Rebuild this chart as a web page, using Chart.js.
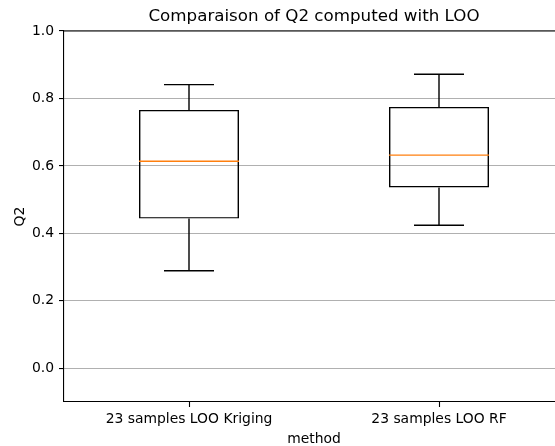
<!DOCTYPE html>
<html>
<head>
<meta charset="utf-8">
<script src="https://cdn.jsdelivr.net/npm/chart.js@4/dist/chart.umd.min.js"></script>
<style>
  html, body { margin: 0; padding: 0; overflow: hidden; background: #fff; }
  canvas { display: block; }
</style>
</head>
<body>
<canvas id="myChart" width="628" height="446"></canvas>
<script>
// box plot values
const categories = ['23 samples LOO Kriging', '23 samples LOO RF'];
const whiskerLow = [0.289, 0.424];
const q1 = [0.444, 0.536];
const median = [0.614, 0.632];
const q3 = [0.766, 0.775];
const whiskerHigh = [0.841, 0.872];
const yTicks = [0.0, 0.2, 0.4, 0.6, 0.8, 1.0];

const FONT = 'DejaVu Sans';

// whiskers, caps, medians, x tick marks and the top frame line, drawn through the chart scales
const boxExtras = {
  id: 'boxExtras',
  afterLayout(chart) {
    // center the title over the whole figure, like matplotlib does over the axes
    chart.titleBlock.left = 0;
    chart.titleBlock.right = chart.width;
  },
  afterDatasetsDraw(chart) {
    const ctx = chart.ctx;
    const x = chart.scales.x;
    const y = chart.scales.y;
    const meta = chart.getDatasetMeta(0);
    ctx.save();
    ctx.lineWidth = 1.4;
    meta.data.forEach(function(bar, i) {
      const cx = bar.x;
      const half = bar.width / 2;
      const capHalf = half / 2;
      ctx.strokeStyle = '#000';
      ctx.beginPath();
      ctx.moveTo(cx, y.getPixelForValue(q3[i]));
      ctx.lineTo(cx, y.getPixelForValue(whiskerHigh[i]));
      ctx.moveTo(cx, y.getPixelForValue(q1[i]));
      ctx.lineTo(cx, y.getPixelForValue(whiskerLow[i]));
      ctx.moveTo(cx - capHalf, y.getPixelForValue(whiskerHigh[i]));
      ctx.lineTo(cx + capHalf, y.getPixelForValue(whiskerHigh[i]));
      ctx.moveTo(cx - capHalf, y.getPixelForValue(whiskerLow[i]));
      ctx.lineTo(cx + capHalf, y.getPixelForValue(whiskerLow[i]));
      ctx.stroke();
      ctx.strokeStyle = '#ff7f0e';
      ctx.beginPath();
      ctx.moveTo(cx - half, y.getPixelForValue(median[i]));
      ctx.lineTo(cx + half, y.getPixelForValue(median[i]));
      ctx.stroke();
    });
    const a = chart.chartArea;
    ctx.strokeStyle = '#000';
    ctx.lineWidth = 1.1;
    ctx.beginPath();
    // top spine
    ctx.moveTo(a.left, a.top);
    ctx.lineTo(a.right, a.top);
    // x tick marks under each category
    categories.forEach(function(c, i) {
      const px = Math.round(x.getPixelForValue(i)) + 0.5;
      ctx.moveTo(px, a.bottom);
      ctx.lineTo(px, a.bottom + 5);
    });
    ctx.stroke();
    ctx.restore();
  }
};

const ctx = document.getElementById('myChart').getContext('2d');
new Chart(ctx, {
  type: 'bar',
  data: {
    labels: categories,
    datasets: [{
      data: categories.map((c, i) => [q1[i], q3[i]]),
      backgroundColor: 'rgba(0,0,0,0)',
      borderColor: '#000',
      borderWidth: 1.4,
      borderSkipped: false,
      barPercentage: 0.4,
      categoryPercentage: 1.0
    }]
  },
  options: {
    responsive: false,
    animation: false,
    layout: { padding: { left: 0, right: 64, top: 0, bottom: 0 } },
    plugins: {
      legend: { display: false },
      tooltip: { enabled: false },
      title: {
        display: true,
        text: 'Comparaison of Q2 computed with LOO',
        color: '#000',
        font: { family: FONT, size: 16.7, weight: 'normal' },
        padding: { top: 7, bottom: 4 }
      }
    },
    scales: {
      x: {
        offset: true,
        grid: { display: false },
        border: { display: true, color: '#000', width: 1.1 },
        ticks: { color: '#000', padding: 1, font: { family: FONT, size: 13.9 }, maxRotation: 0 },
        title: {
          display: true,
          text: 'method',
          color: '#000',
          font: { family: FONT, size: 13.9, lineHeight: 0.9 },
          padding: { top: 0, bottom: 0 }
        },
        afterFit(scale) { scale.height = 44; }
      },
      y: {
        min: -0.1,
        max: 1.0,
        afterBuildTicks(scale) { scale.ticks = yTicks.map(v => ({ value: v })); },
        grid: { color: '#b0b0b0', lineWidth: 1.1, tickLength: 5, tickColor: '#000', tickWidth: 1.1 },
        border: { display: true, color: '#000', width: 1.1 },
        ticks: {
          color: '#000',
          padding: 5,
          font: { family: FONT, size: 13.9 },
          callback: v => Number(v).toFixed(1)
        },
        title: {
          display: true,
          text: 'Q2',
          color: '#000',
          font: { family: FONT, size: 13.9 },
          padding: { top: 12, bottom: 0 }
        },
        afterFit(scale) { scale.width = 64; }
      }
    }
  },
  plugins: [boxExtras]
});
</script>
</body>
</html>
